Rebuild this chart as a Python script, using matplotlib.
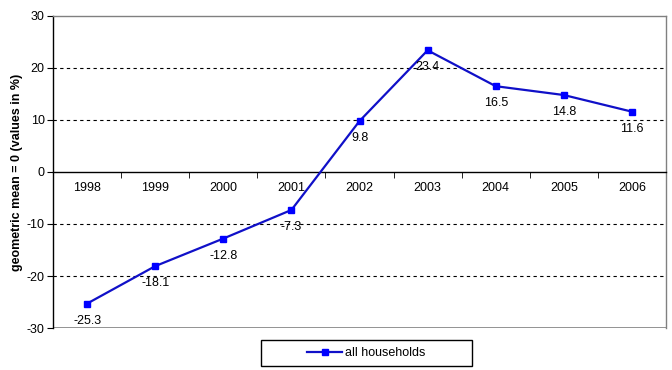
import matplotlib
matplotlib.use("Agg")
import matplotlib.pyplot as plt
from matplotlib.patches import Rectangle

years = ["1998", "1999", "2000", "2001", "2002", "2003", "2004", "2005", "2006"]
values = [-25.3, -18.1, -12.8, -7.3, 9.8, 23.4, 16.5, 14.8, 11.6]
y_ticks = [-30, -20, -10, 0, 10, 20, 30]

plt.rcParams["font.family"] = ["Liberation Sans", "DejaVu Sans"]
FS = 9

fig = plt.figure(figsize=(6.72, 3.7), dpi=100)
ax = fig.add_axes([0.079, 0.1135, 0.912, 0.8433])

x = list(range(len(years)))
line, = ax.plot(x, values, color="#1010C8", lw=1.6, marker="s", ms=5,
                mfc="#0000FF", mec="#0000FF", label="all households", zorder=3)

for xi, v in zip(x, values):
    ax.annotate(f"{v:.1f}", (xi, v), xytext=(0, -8), textcoords="offset points",
                ha="center", va="top", fontsize=FS)

ax.set_xlim(-0.5, len(years) - 0.5)
ax.set_ylim(-30, 30)

# dashed grid lines
for g in [-20, -10, 10, 20]:
    ax.axhline(g, color="black", lw=0.8, ls=(0, (3, 3)), zorder=1)
ax.axhline(-30, color="#808080", lw=1.2, zorder=2)

ax.spines["bottom"].set_position(("data", 0))
ax.spines["bottom"].set_color("black")
ax.spines["left"].set_color("black")
ax.spines["top"].set_color("#808080")
ax.spines["right"].set_color("#808080")
for s in ax.spines.values():
    s.set_linewidth(1.0)

ax.set_xticks(x)
ax.set_xticklabels(years, fontsize=FS)
ax.tick_params(axis="x", which="major", length=0, pad=7)
ax.set_xticks([i + 0.5 for i in range(-1, len(years))], minor=True)
ax.tick_params(axis="x", which="minor", length=4, direction="out")

ax.set_yticks(y_ticks)
ax.set_yticklabels([str(t) for t in y_ticks], fontsize=FS)
ax.tick_params(axis="y", length=4, direction="out", pad=2)

ax.set_ylabel("geometric mean = 0 (values in %)", fontsize=FS, fontweight="bold",
              labelpad=3)

# legend box
fig.patches.append(Rectangle((261 / 672, 1 - 366 / 370), 211 / 672, 26 / 370,
                             transform=fig.transFigure, fill=False,
                             edgecolor="black", lw=1.0))
fig.legend(handles=[line], loc="center", bbox_to_anchor=(366 / 672, 1 - 353 / 370),
           frameon=False, fontsize=FS, handlelength=2.8, handletextpad=0.2)

fig.savefig("out.png", dpi=100)
